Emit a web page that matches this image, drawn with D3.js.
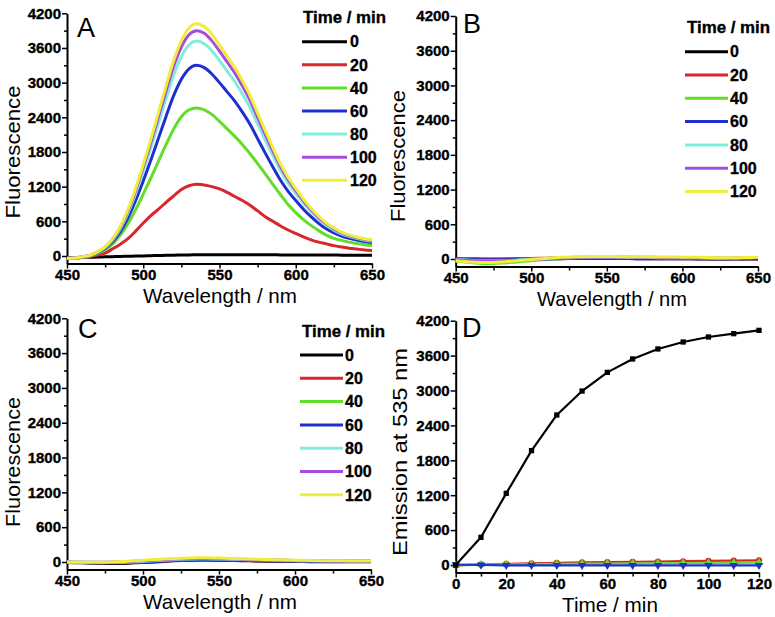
<!DOCTYPE html>
<html>
<head>
<meta charset="utf-8">
<script src="https://cdn.jsdelivr.net/npm/d3@7"></script>
<style>
  body { margin: 0; background: #fff; }
  svg { display: block; }
  text { font-family: "Liberation Sans", Arial, sans-serif; }
</style>
</head>
<body>
<svg id="chart" width="775" height="617"></svg>
<script>
// ---- data ----
const timeLabels = ["0", "20", "40", "60", "80", "100", "120"];
const colors = ["#000000", "#d8262b", "#62dd2a", "#2030d0", "#80eedc", "#a84be0", "#f0ee3a"];

// panel A: spectra every 5 nm
const wlA = [450,455,460,465,470,475,480,485,490,495,500,505,510,515,520,525,530,535,540,545,
  550,555,560,565,570,575,580,585,590,595,600,605,610,615,620,625,630,635,640,645,650];
const a0 = [-30,-28,-25,-22,-18,-15,-12,-8,-5,-2,2,5,8,11,14,17,19,21,22,23,
  23,23,22,22,21,21,20,20,19,19,18,18,17,17,16,16,15,15,15,14,14];
const a20 = [-40,-35,-25,-10,15,50,125,205,300,430,570,700,810,930,1040,1150,1215,1240,1230,1200,
  1160,1100,1030,960,880,780,680,600,520,450,390,330,280,240,210,180,155,135,120,105,95];
const a40 = [-45,-40,-25,0,45,110,210,360,560,800,1070,1350,1640,1930,2200,2410,2530,2560,2530,2450,
  2330,2200,2070,1930,1770,1600,1420,1240,1060,890,750,630,530,440,360,305,270,240,215,195,180];
const a60 = [-40,-35,-20,10,60,130,250,420,660,960,1300,1660,2040,2420,2780,3060,3240,3300,3260,3150,
  3000,2840,2680,2490,2280,2030,1780,1540,1310,1120,960,810,680,565,470,400,345,305,275,250,230];
const a80 = [-40,-35,-15,12,68,147,282,473,744,1082,1465,1871,2299,2727,3133,3449,3651,3720,3674,3550,
  3381,3201,3020,2806,2570,2288,2006,1736,1476,1262,1082,913,766,637,530,448,385,340,305,278,255];
const a100 = [-40,-35,-15,12,71,154,296,496,780,1135,1537,1962,2411,2860,3286,3617,3830,3900,3853,3723,
  3546,3357,3168,2943,2695,2399,2104,1820,1548,1324,1135,957,804,668,556,470,402,355,318,290,268];
const a120 = [-40,-35,-15,13,73,158,305,512,804,1169,1583,2022,2485,2948,3386,3727,3946,4020,3971,3837,
  3654,3459,3264,3033,2777,2473,2168,1876,1596,1364,1169,987,828,688,572,485,415,365,330,300,280];

// panels B and C: spectra every 10 nm
const wlBC = [450,460,470,480,490,500,510,520,530,540,550,560,570,580,590,600,610,620,630,640,650];
const b0 = [5,0,-5,-5,0,5,10,15,15,10,10,10,5,5,5,5,0,0,0,0,0];
const b20 = [10,5,0,0,5,10,15,20,25,25,25,25,20,15,15,10,10,5,5,5,5];
const b40 = [-40,-60,-80,-70,-50,-30,-10,5,15,20,20,20,20,15,15,10,10,10,5,15,25];
const b60 = [-5,-10,-15,-15,-10,-5,0,5,10,10,10,10,5,5,5,5,5,0,0,5,5];
const b80 = [-10,-20,-30,-30,-20,-5,10,20,25,30,30,30,25,25,20,20,20,15,15,20,25];
const b100 = [-15,-25,-35,-35,-25,-10,5,20,30,35,35,35,30,30,25,25,20,20,15,20,25];
const b120 = [-30,-50,-60,-50,-30,-10,10,30,40,45,45,40,40,35,35,30,30,25,20,25,30];

const c0 = [-10,-15,-20,-25,-20,-10,5,20,30,35,30,25,20,15,10,10,5,5,5,5,5];
const c20 = [-5,-10,-15,-15,-10,0,15,25,35,40,35,30,25,20,15,15,10,10,10,10,10];
const c40 = [0,-5,-10,-10,-5,5,20,35,45,50,45,40,35,30,25,20,15,15,15,15,15];
const c60 = [-5,-10,-15,-15,-10,0,10,25,35,40,35,30,25,20,15,15,10,10,10,10,10];
const c80 = [0,-5,-5,-5,0,10,25,40,50,55,50,45,40,35,30,25,20,20,20,20,20];
const c100 = [0,-5,-5,0,10,20,35,50,60,62,58,52,45,40,33,28,24,20,18,18,18];
const c120 = [0,-5,-5,0,15,30,45,60,70,72,68,60,52,45,38,32,27,22,20,18,18];

// panel D: emission at 535 nm vs time
const timesD = [0,10,20,30,40,50,60,70,80,90,100,110,120];
const dBlack = [0,476,1232,1966,2579,2991,3312,3542,3714,3834,3920,3977,4034];
const dRed = [-5,10,20,30,38,45,50,55,60,65,70,75,80];
const dGreen = [-5,5,10,15,18,22,25,28,30,33,35,38,40];
const dBlue = [5,0,-5,-5,-5,-5,-5,-5,-5,-5,-5,-5,-5];

// ticks
const yMajor = [0,600,1200,1800,2400,3000,3600,4200];
const yMinor = [300,900,1500,2100,2700,3300,3900];
const wlMajor = [450,500,550,600,650];
const wlMinor = [475,525,575,625];
const tMajor = [0,20,40,60,80,100,120];
const tMinor = [10,30,50,70,90,110];

const svg = d3.select("#chart");

function boldText(sel, size) {
  sel.attr("font-size", size).attr("font-weight", "bold")
    .attr("font-family", "'Liberation Sans', Arial, sans-serif")
    .attr("fill", "#000").attr("stroke", "#000").attr("stroke-width", 0.35);
}

function makePanel(p) {
  const yBottom = p.y0 + 130 * (p.y0 - p.yTop) / 4200;
  const x = d3.scaleLinear().domain(p.xDomain).range([p.xl, p.xr]);
  const y = d3.scaleLinear().domain([-130, 4200]).range([yBottom, p.yTop]);
  const g = svg.append("g");

  // minor ticks
  g.append("g").attr("transform", `translate(0,${yBottom})`)
    .call(d3.axisBottom(x).tickValues(p.xMinor).tickSize(4).tickSizeOuter(0).tickFormat(""))
    .call(s => s.select(".domain").remove());
  g.append("g").attr("transform", `translate(${p.xl},0)`)
    .call(d3.axisLeft(y).tickValues(yMinor).tickSize(3).tickSizeOuter(0).tickFormat(""))
    .call(s => s.select(".domain").remove());

  // major axes
  const xa = g.append("g").attr("transform", `translate(0,${yBottom})`)
    .call(d3.axisBottom(x).tickValues(p.xMajor).tickSize(5).tickSizeOuter(0)
      .tickFormat(d3.format("d")));
  const ya = g.append("g").attr("transform", `translate(${p.xl},0)`)
    .call(d3.axisLeft(y).tickValues(yMajor).tickSize(5).tickSizeOuter(0).tickPadding(1)
      .tickFormat(d3.format("d")));
  xa.selectAll("text").attr("y", 16.5).attr("dy", null);
  [xa, ya].forEach(a => {
    boldText(a.selectAll("text"), 15);
    a.select(".domain").attr("stroke-width", 2);
  });
  g.selectAll(".tick line").attr("stroke-width", 1.5);

  // axis titles
  g.append("text").attr("x", p.xt[0]).attr("y", yBottom + 39)
    .attr("text-anchor", "middle").attr("font-size", 21)
    .attr("textLength", p.xt[1]).attr("lengthAdjust", "spacingAndGlyphs")
    .text(p.xTitle);
  g.append("text").attr("transform", `translate(${p.yt[0]},${p.yt[1]}) rotate(-90)`)
    .attr("text-anchor", "middle").attr("font-size", 21)
    .attr("textLength", p.yt[2]).attr("lengthAdjust", "spacingAndGlyphs")
    .text(p.yTitle);

  // panel letter
  g.append("text").attr("x", p.letterPos[0]).attr("y", p.letterPos[1])
    .attr("font-family", "'Liberation Serif', 'Times New Roman', serif")
    .attr("font-size", 27).text(p.letter);

  return { g, x, y };
}

function drawSpectra(p, wl, series) {
  const { g, x, y } = makePanel(p);
  const line = d3.line().x((d, i) => x(wl[i])).y(d => y(d)).curve(d3.curveMonotoneX);
  series.forEach((s, k) => {
    g.append("path").datum(s).attr("d", line)
      .attr("fill", "none").attr("stroke", colors[k]).attr("stroke-width", 3)
      .attr("stroke-linejoin", "round");
  });

  // legend
  const L = p.legend;
  boldText(g.append("text").attr("x", L.tx).attr("y", L.ty)
    .attr("textLength", 83).attr("lengthAdjust", "spacingAndGlyphs")
    .text("Time / min"), 16);
  timeLabels.forEach((t, k) => {
    const ry = L.y0 + k * L.dy;
    g.append("line").attr("x1", L.x1).attr("x2", L.x2).attr("y1", ry).attr("y2", ry)
      .attr("stroke", colors[k]).attr("stroke-width", 3);
    boldText(g.append("text").attr("x", L.lx).attr("y", ry).attr("dy", "0.36em").text(t), 16);
  });
}

drawSpectra({
  letter: "A", letterPos: [77, 37],
  xDomain: [450, 650], xl: 67, xr: 372, y0: 256, yTop: 13.3,
  xMajor: wlMajor, xMinor: wlMinor,
  xTitle: "Wavelength / nm", xt: [220, 154],
  yTitle: "Fluorescence", yt: [20, 152, 133],
  legend: { tx: 303, ty: 23, y0: 41.7, dy: 23.1, x1: 302, x2: 347, lx: 350 }
}, wlA, [a0, a20, a40, a60, a80, a100, a120]);

drawSpectra({
  letter: "B", letterPos: [463, 33],
  xDomain: [450, 650], xl: 455.7, xr: 758, y0: 259, yTop: 16,
  xMajor: wlMajor, xMinor: wlMinor,
  xTitle: "Wavelength / nm", xt: [612, 150],
  yTitle: "Fluorescence", yt: [405, 156, 132],
  legend: { tx: 687, ty: 33, y0: 51.7, dy: 23.3, x1: 685, x2: 728, lx: 730 }
}, wlBC, [b0, b20, b40, b60, b80, b100, b120]);

drawSpectra({
  letter: "C", letterPos: [78, 338],
  xDomain: [450, 650], xl: 67, xr: 371, y0: 562, yTop: 318.3,
  xMajor: wlMajor, xMinor: wlMinor,
  xTitle: "Wavelength / nm", xt: [220, 154],
  yTitle: "Fluorescence", yt: [20, 462, 130],
  legend: { tx: 302, ty: 337, y0: 355, dy: 23.3, x1: 300, x2: 343, lx: 345 }
}, wlBC, [c0, c20, c40, c60, c80, c100, c120]);

// panel D
(function () {
  const { g, x, y } = makePanel({
    letter: "D", letterPos: [462, 337],
    xDomain: [0, 120], xl: 455.7, xr: 759, y0: 565, yTop: 320.7,
    xMajor: tMajor, xMinor: tMinor,
    xTitle: "Time / min", xt: [610, 96],
    yTitle: "Emission at 535 nm", yt: [407, 452, 208]
  });
  const dSeries = [
    { v: dRed, c: "#d8262b", sym: d3.symbolCircle, size: 30 },
    { v: dGreen, c: "#62dd2a", sym: d3.symbolTriangle, size: 30 },
    { v: dBlue, c: "#2030d0", sym: d3.symbolTriangle, size: 30, down: true },
    { v: dBlack, c: "#000000", sym: d3.symbolSquare, size: 28 }
  ];
  const line = d3.line().x((d, i) => x(timesD[i])).y(d => y(d));
  dSeries.forEach(s => {
    g.append("path").datum(s.v).attr("d", line)
      .attr("fill", "none").attr("stroke", s.c).attr("stroke-width", 2.2)
      .attr("stroke-linejoin", "round");
    g.selectAll(null).data(s.v).enter().append("path")
      .attr("d", d3.symbol().type(s.sym).size(s.size))
      .attr("transform", (d, i) => `translate(${x(timesD[i])},${y(d)})` + (s.down ? " rotate(180)" : ""))
      .attr("fill", s.c);
  });
})();
</script>
</body>
</html>
